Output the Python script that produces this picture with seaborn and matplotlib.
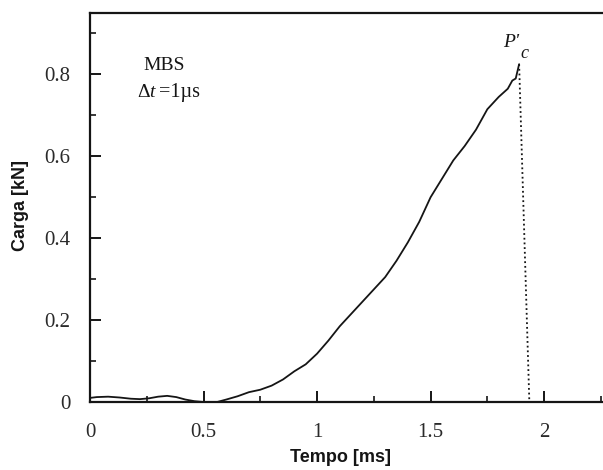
import matplotlib
matplotlib.use("Agg")
import matplotlib.pyplot as plt
from matplotlib.ticker import MultipleLocator
import seaborn as sns
import pandas as pd

# Load history of the MBS specimen (time step 1 µs)
tempo_ms = [0.00, 0.03, 0.08, 0.13, 0.18, 0.22, 0.26, 0.30, 0.34, 0.38, 0.42,
            0.46, 0.50, 0.54, 0.56, 0.60, 0.65, 0.70, 0.75, 0.80, 0.85, 0.90,
            0.95, 1.00, 1.05, 1.10, 1.15, 1.20, 1.25, 1.30, 1.35, 1.40, 1.45,
            1.50, 1.55, 1.60, 1.65, 1.70, 1.75, 1.80, 1.84, 1.86, 1.875, 1.89]
carga_kn = [0.010, 0.012, 0.013, 0.011, 0.008, 0.007, 0.009, 0.013, 0.015,
            0.012, 0.006, 0.002, 0.000, 0.000, 0.000, 0.006, 0.014, 0.024,
            0.030, 0.040, 0.055, 0.075, 0.092, 0.118, 0.150, 0.185, 0.215,
            0.245, 0.275, 0.305, 0.345, 0.390, 0.440, 0.500, 0.545, 0.590,
            0.625, 0.665, 0.715, 0.745, 0.765, 0.785, 0.790, 0.825]

# Unloading branch after the critical load P'c
queda_ms = [1.89, 1.935]
queda_kn = [0.825, 0.000]

x_ticks = [0, 0.5, 1, 1.5, 2]
x_tick_labels = ["0", "0.5", "1", "1.5", "2"]
y_ticks = [0, 0.2, 0.4, 0.6, 0.8]
y_tick_labels = ["0", "0.2", "0.4", "0.6", "0.8"]

sns.set_style("ticks")
plt.rcParams["font.family"] = ["Liberation Serif", "DejaVu Serif"]

ink = "#151515"
fig = plt.figure(figsize=(6.03, 4.70), dpi=100)
ax = fig.add_axes([90 / 603, 1 - 402 / 470, 512 / 603, 389 / 470])

curva = pd.DataFrame({"t": tempo_ms, "P": carga_kn})
queda = pd.DataFrame({"t": queda_ms, "P": queda_kn})
sns.lineplot(data=curva, x="t", y="P", ax=ax, color=ink, lw=1.3,
             estimator=None, sort=False)
sns.lineplot(data=queda, x="t", y="P", ax=ax, color=ink, lw=1.3,
             linestyle=(0, (1.0, 1.6)), estimator=None, sort=False)

ax.set_xlim(0, 2.255)
ax.set_ylim(0, 0.95)
ax.set_xticks(x_ticks)
ax.set_xticklabels(x_tick_labels)
ax.set_yticks(y_ticks)
ax.set_yticklabels(y_tick_labels)
ax.xaxis.set_minor_locator(MultipleLocator(0.25))
ax.yaxis.set_minor_locator(MultipleLocator(0.1))

ax.tick_params(which="major", direction="in", length=8, width=1.4,
               color=ink, labelsize=15, labelcolor="#2a2a2a")
ax.tick_params(which="minor", direction="in", length=4.5, width=1.2,
               color=ink)
ax.tick_params(axis="x", which="major", pad=15)
ax.tick_params(axis="y", which="major", pad=14)

for side in ["left", "bottom", "top"]:
    ax.spines[side].set_linewidth(1.6)
    ax.spines[side].set_color(ink)
ax.spines["right"].set_visible(False)

lbl_font = dict(family=["Liberation Sans", "DejaVu Sans"], weight="bold",
                size=13, color=ink)
ax.set_xlabel("Tempo [ms]", fontdict=lbl_font)
ax.set_ylabel("Carga [kN]", fontdict=lbl_font)
ax.xaxis.set_label_coords(0.49, -0.122)
ax.yaxis.set_label_coords(-0.12, 0.505)

ax.text(0.233, 0.823, "MBS", fontsize=14, color=ink, va="center", ha="left")
ax.text(0.207, 0.757, "\u0394", fontsize=14, color=ink, va="center",
        ha="left")
ax.text(0.262, 0.757, "t", fontsize=14, style="italic", color=ink,
        va="center", ha="left")
ax.text(0.305, 0.757, "=1\u00b5s", fontsize=14.5, color=ink, va="center",
        ha="left")
ax.text(1.82, 0.878, "P'", fontsize=14, style="italic", color=ink,
        va="center", ha="left")
ax.text(1.897, 0.852, "c", fontsize=13, style="italic", color=ink,
        va="center", ha="left")

fig.savefig("out.png", dpi=100)
